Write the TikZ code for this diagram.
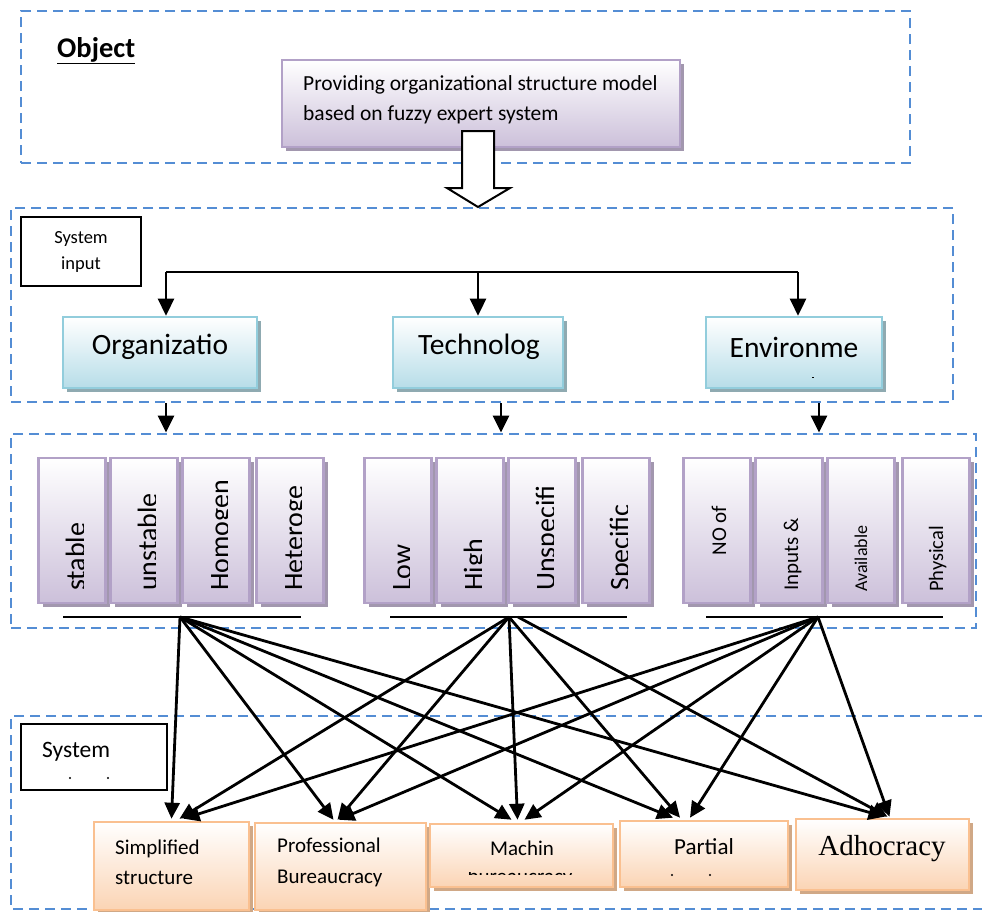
\documentclass[tikz,border=0pt]{standalone}
\usepackage{fontspec}
\setmainfont{Carlito}
\newfontfamily\timesfont{Liberation Serif}
\usetikzlibrary{arrows.meta,shadows,calc}
\definecolor{dblue}{RGB}{84,141,212}
\definecolor{pborder}{RGB}{178,161,199}
\definecolor{pfill}{RGB}{204,192,218}
\definecolor{pshadow}{RGB}{162,151,174}
\definecolor{bborder}{RGB}{146,205,220}
\definecolor{bfill}{RGB}{183,221,232}
\definecolor{bshadow}{RGB}{143,170,177}
\definecolor{oborder}{RGB}{250,192,144}
\definecolor{ofill}{RGB}{251,212,180}
\definecolor{oshadow}{RGB}{208,168,134}
\tikzset{
  dashbox/.style={draw=dblue, line width=2.8pt, dash pattern=on 10pt off 6pt, inner sep=0pt},
  pbox/.style={draw=pborder, line width=2.6pt, top color=white, bottom color=pfill, inner sep=0pt,
    drop shadow={shadow xshift=4pt, shadow yshift=-4pt, fill=pshadow, opacity=1}},
  bbox/.style={draw=bborder, line width=2.6pt, top color=white, bottom color=bfill, inner sep=0pt,
    drop shadow={shadow xshift=4pt, shadow yshift=-4pt, fill=bshadow, opacity=1}},
  obox/.style={draw=oborder, line width=2.6pt, top color=white, bottom color=ofill, inner sep=0pt,
    drop shadow={shadow xshift=4pt, shadow yshift=-4pt, fill=oshadow, opacity=1}},
  lbox/.style={draw=black, line width=2pt, fill=white, inner sep=0pt},
  vtext/.style={rotate=90, inner sep=0pt, font=\fontsize{28}{28}\selectfont},
  vsmall/.style={rotate=90, inner sep=0pt, font=\fontsize{#1}{#1}\selectfont},
  txt/.style={inner sep=0pt, font=\fontsize{#1}{#1}\selectfont},
  arr/.style={line width=2.6pt, -{Triangle[length=17pt,width=16pt]}},
  conn/.style={line width=2.8pt, -{Triangle[length=16pt,width=15pt]}},
  hubline/.style={line width=2pt},
}
\begin{document}
\begin{tikzpicture}[x=1pt,y=-1pt]
\useasboundingbox (0,0) rectangle (982,911);
\fill[white] (0,0) rectangle (982,911);

% ---------- Object section ----------
\node[dashbox, minimum width=889pt, minimum height=152pt] (objbox) at (465.5,87) {};
\node[txt=28, font=\fontsize{28.5}{28.5}\selectfont\bfseries, anchor=base west] (objlabel) at (57,57) {\underline{Object}};
\node[pbox, minimum width=398pt, minimum height=87pt] (prov) at (481,103.5) {};
\node[inner sep=0pt, anchor=west, align=left, font=\fontsize{21.5}{30}\selectfont] (provtext) at (303,100)
  {Providing organizational structure model\\based on fuzzy expert system};

% ---------- System input section ----------
\node[dashbox, minimum width=942pt, minimum height=194pt] (inbox) at (482,305) {};
\draw[black, line width=2pt, fill=white]
  (462,131) -- (494,131) -- (494,188) -- (510,188) -- (478,207) -- (447,188) -- (462,188) -- cycle;
\node[lbox, line width=1.8pt, minimum width=120pt, minimum height=69pt, align=center,
      font=\fontsize{18.5}{26}\selectfont] (sibox) at (81,251.5) {System\\input};

\node[bbox, minimum width=194pt, minimum height=71pt] (org) at (160,352.5) {};
\node[bbox, minimum width=170pt, minimum height=71pt] (tech) at (478,352.5) {};
\node[bbox, minimum width=176pt, minimum height=71pt] (env) at (794,352.5) {};
\node[txt=29.5] (orgt) at (160,347) {Organizatio};
\node[txt=29.5] (techt) at (479,347) {Technolog};
\node[txt=29.5] (envt) at (794,347) {Environme};
\fill (812,376.5) rectangle (814,377.5);

\coordinate (b1) at (166,272);
\coordinate (b2) at (478,272);
\coordinate (b3) at (798,272);
\draw[line width=2.4pt] (b1) -- (b3);
\draw[arr] (b1) -- (b1 |- org.north);
\draw[arr] (b2) -- (b2 |- tech.north);
\draw[arr] (b3) -- (b3 |- env.north);

% ---------- Categories section ----------
\node[dashbox, minimum width=965pt, minimum height=194pt] (catbox) at (493.5,531) {};
\coordinate (a1) at (166,403);
\coordinate (a2) at (501,403);
\coordinate (a3) at (819,403);
\draw[arr] (inbox.south -| a1) -- (a1 |- catbox.north);
\draw[arr] (inbox.south -| a2) -- (a2 |- catbox.north);
\draw[arr] (inbox.south -| a3) -- (a3 |- catbox.north);

\foreach \n/\cx in {c1/72,c2/144,c3/216,c4/290,c5/398,c6/470,c7/542,c8/616,c9/717,c10/789,c11/861,c12/936}{
  \node[pbox, minimum width=67pt, minimum height=145pt] (\n) at (\cx,530.5) {};
}
\foreach \n/\cx/\word in {t1/72/stable,t2/144/unstable,t3/216/Homogen,t4/290/Heteroge,t5/398/Low,t6/470/High,t7/542/Unspecifi,t8/616/Specific}{
  \begin{scope}
    \clip (\cx-34,458) rectangle (\cx+11,603);
    \node[vtext, anchor=base west] (\n) at (\cx+13,591) {\word};
  \end{scope}
}
\node[vsmall=21, anchor=base] (t9) at (726,530.5) {NO of};
\node[vsmall=21, anchor=base west] (t10) at (798,591) {Inputs \&};
\node[vsmall=18, anchor=base west] (t11) at (867,592) {Available};
\node[vsmall=20.5, anchor=base west] (t12) at (943,592) {Physical};

\draw[hubline] (63,617) -- (301,617);
\draw[hubline] (390,617) -- (627,617);
\draw[hubline] (706,617) -- (943,617);
\coordinate (oh) at (180,617);
\coordinate (th) at (509,617);
\coordinate (th2) at (518,617);
\coordinate (eh) at (818,617);

% ---------- System output section ----------
\draw[dblue, line width=2.8pt, dash pattern=on 10pt off 6pt] (984,716) -- (11,716) -- (11,909) -- (984,909);
\node[lbox, line width=2.2pt, minimum width=146pt, minimum height=66pt] (sobox) at (94,757) {};
\node[txt=23.5, anchor=west] (sotext) at (42,752) {System};
\fill (70,778) circle (1.2pt);
\fill (108,778) circle (1.2pt);

\node[obox, minimum width=155pt, minimum height=88pt] (simp) at (171.5,866) {};
\node[obox, minimum width=171pt, minimum height=87pt] (prof) at (340.5,866.5) {};
\node[obox, minimum width=183pt, minimum height=63pt] (mach) at (521.5,855.5) {};
\node[obox, minimum width=168pt, minimum height=66pt] (part) at (704,854) {};
\node[obox, minimum width=173pt, minimum height=71pt] (adh) at (882.5,854.5) {};

\node[inner sep=0pt, anchor=west, align=left, font=\fontsize{21}{30}\selectfont] (simpt) at (115,862) {Simplified\\structure};
\node[inner sep=0pt, anchor=west, align=left, font=\fontsize{21}{31}\selectfont] (proft) at (277,862.5) {Professional\\Bureaucracy};
\node[txt=21] (macht) at (522,848) {Machin};
\begin{scope}
  \clip (430,872.3) rectangle (613,874.6);
  \node[txt=21, anchor=base] (macht2) at (520,883) {bureaucracy};
\end{scope}
\node[txt=23] (partt) at (704,847) {Partial};
\fill (672,875) circle (1.2pt);
\fill (710,875) circle (1.2pt);
\node[inner sep=0pt, font=\timesfont\fontsize{29}{29}\selectfont] (adht) at (882,849) {Adhocracy};

% ---------- Connectors ----------
\draw[conn] (oh) -- ($(simp.north)+(0,-2)$);
\draw[conn] (oh) -- ($(prof.north)+(-7,-2)$);
\draw[conn] (oh) -- ($(mach.north)+(-10,-3)$);
\draw[conn] (oh) -- ($(part.north)+(-31,-2)$);
\draw[conn] (oh) -- ($(adh.north)+(2,-1)$);
\draw[conn] (th) -- ($(simp.north)+(8,-2)$);
\draw[conn] (th) -- ($(prof.north)+(-3,-2)$);
\draw[conn] (th) -- ($(mach.north)+(-4,-3)$);
\draw[conn] (th) -- ($(part.north)+(-24,-2)$);
\draw[conn] (th2) -- ($(adh.north)+(5,-1)$);
\draw[conn] (eh) -- ($(simp.north)+(12,-2)$);
\draw[conn] (eh) -- ($(prof.north)+(-2,-2)$);
\draw[conn] (eh) -- ($(mach.north)+(3,-3)$);
\draw[conn] (eh) -- ($(part.north)+(-14,-2)$);
\draw[conn] (eh) -- ($(adh.north)+(7,-1)$);
\end{tikzpicture}
\end{document}
